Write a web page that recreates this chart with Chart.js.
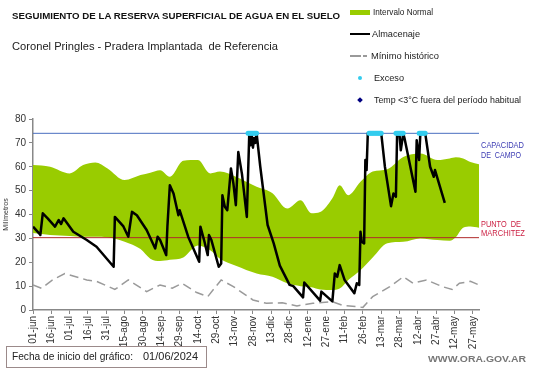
<!DOCTYPE html>
<html>
<head>
<meta charset="utf-8">
<script src="https://cdn.jsdelivr.net/npm/chart.js@4.4.1/dist/chart.umd.min.js"></script>
<style>
  html, body { margin: 0; padding: 0; background: #fff; }
  #wrap { position: relative; width: 541px; height: 368px; overflow: hidden;
          font-family: "Liberation Sans", Arial, sans-serif; color: #222; }
  #wrap canvas { position: absolute; left: 0; top: 0; }
  .t { position: absolute; white-space: nowrap; transform-origin: 0 50%; line-height: 10px; }
  .sw { position: absolute; }
</style>
</head>
<body>
<div id="wrap">
  <canvas id="chart" width="541" height="368"></canvas>

  <div class="t fit" data-w="328" style="left:12px;top:11px;font-size:8.7px;font-weight:bold;color:#111;">SEGUIMIENTO DE LA RESERVA SUPERFICIAL DE AGUA EN EL SUELO</div>
  <div class="t fit" data-w="266" style="left:12px;top:40px;font-size:11px;line-height:12px;color:#222;">Coronel Pringles - Pradera Implantada&nbsp; de Referencia</div>

  <!-- legend -->
  <div class="sw" style="left:350px;top:10px;width:20px;height:5px;background:#99CC00;"></div>
  <div class="t fit" data-w="60" style="left:373px;top:7px;font-size:9.5px;">Intervalo Normal</div>
  <div class="sw" style="left:350px;top:33px;width:20px;height:2px;background:#000;"></div>
  <div class="t fit" data-w="48" style="left:372px;top:29px;font-size:9.5px;">Almacenaje</div>
  <div class="sw" style="left:350px;top:55px;width:11px;height:1.5px;background:#999;"></div>
  <div class="sw" style="left:363px;top:55px;width:4px;height:1.5px;background:#999;"></div>
  <div class="t fit" data-w="68" style="left:371px;top:51px;font-size:9.5px;">Mínimo histórico</div>
  <div class="sw" style="left:358px;top:76px;width:4px;height:4px;border-radius:50%;background:#33CCEE;"></div>
  <div class="t fit" data-w="30" style="left:374px;top:73px;font-size:9.5px;">Exceso</div>
  <div class="sw" style="left:358px;top:98px;width:4px;height:4px;transform:rotate(45deg);background:#000080;"></div>
  <div class="t fit" data-w="147" style="left:374px;top:95px;font-size:9.5px;">Temp &lt;3°C fuera del período habitual</div>

  <!-- reference line labels -->
  <div class="t fit" data-w="43" style="left:481px;top:140px;font-size:8.5px;color:#3B3BB3;">CAPACIDAD</div>
  <div class="t fit" data-w="40" style="left:481px;top:150px;font-size:8.5px;color:#3B3BB3;">DE&nbsp; CAMPO</div>
  <div class="t fit" data-w="40" style="left:481px;top:219px;font-size:8.5px;color:#CC2244;">PUNTO&nbsp; DE</div>
  <div class="t fit" data-w="44" style="left:481px;top:228px;font-size:8.5px;color:#CC2244;">MARCHITEZ</div>

  <!-- footer -->
  <div style="position:absolute;left:6px;top:346px;width:199px;height:20px;border:1px solid #9B8A8A;"></div>
  <div class="t fit" data-w="121" style="left:12px;top:350px;font-size:11px;line-height:12px;">Fecha de inicio del gráfico:</div>
  <div class="t fit" data-w="55" style="left:143px;top:350px;font-size:11px;line-height:12px;">01/06/2024</div>
  <div class="t fit" data-w="98" style="left:428px;top:354px;font-size:9.5px;font-weight:bold;color:#777;">WWW.ORA.GOV.AR</div>
</div>

<script>
// x axis in days counted from 01-jun-2024
const tickDays = [0, 15, 30, 45, 60, 75, 90, 105, 120, 135, 150, 165, 180, 195, 210, 225, 240, 255, 270, 285, 300, 315, 330, 345, 360];
const tickLabels = ['01-jun', '16-jun', '01-jul', '16-jul', '31-jul', '15-ago', '30-ago', '14-sep', '29-sep', '14-oct', '29-oct', '13-nov',
                    '28-nov', '13-dic', '28-dic', '12-ene', '27-ene', '11-feb', '26-feb', '13-mar', '28-mar', '12-abr', '27-abr', '12-may', '27-may'];

// Intervalo Normal (upper / lower edge of the green band)
const bandDays  = [0, 14, 30, 41, 51, 61, 75, 88, 96, 104, 112, 123, 135, 145, 153, 166, 183, 196, 208, 219, 228, 235, 245, 251, 258, 268, 278, 290, 303, 317, 331, 341, 346, 352, 358, 365];
const bandUpper = [60.7, 60, 57.2, 60.7, 61.8, 59.3, 54.4, 56.5, 57.5, 58.5, 55.8, 62.5, 62.8, 57.2, 58, 55.8, 51.6, 48.9, 42.5, 46, 40.5, 41, 46.8, 52.3, 48.1, 53.7, 58, 59, 64.1, 65.5, 62.8, 63.5, 64, 63.5, 62, 61];
const bandLower = [32.2, 31.4, 31, 30.7, 30.7, 30.5, 28.6, 25.5, 21.5, 20.5, 21, 22, 27, 25, 21.5, 18.5, 15.3, 13.9, 11.2, 10, 9.5, 8.6, 8.4, 9, 12.6, 16.7, 22, 28, 28.6, 30, 29.3, 29, 30.5, 34.5, 35, 34.5];

// Mínimo histórico
const minDays = [0, 7, 16, 26, 44, 52, 67, 78, 93, 104, 114, 122, 134, 143, 154, 164, 180, 191, 204, 216, 229, 245, 253, 270, 278, 292, 303, 311, 322, 335, 343, 349, 358, 365];
const minVals = [10.5, 9.1, 12.6, 15.3, 12.6, 12, 8.6, 12.6, 7.7, 10.5, 9.1, 11.2, 7.3, 5.6, 12.6, 9.8, 4.2, 2.8, 3, 1.7, 2.8, 3.5, 2, 1.1, 5.6, 9.8, 13.9, 11.2, 12.6, 9.8, 8.6, 11.2, 12, 10.5];

// Almacenaje
const almDays = [0, 5, 6, 8, 12, 18, 21, 23, 25, 33, 44, 52, 66, 67, 74, 78, 81, 85, 93, 100,
                 102, 104, 109, 110, 112, 115, 119, 120, 127, 136, 137, 140, 143, 144, 146, 152, 154, 155, 157, 159,
                 162, 164, 166, 168, 171, 175, 177, 178, 179, 180, 181, 182, 183, 186, 192, 197, 202, 210, 213, 221,
                 222, 235, 236, 245, 247, 249, 251, 255, 263, 265, 267, 268, 269, 271, 272, 273, 274, 285, 288, 293,
                 295, 297, 298, 300, 301, 303, 304, 313, 314, 316, 317, 321, 325, 328, 329, 337];
const almVals = [34.9, 32.1, 31.4, 40.5, 38.4, 34.9, 37.7, 36, 38.4, 32.8, 29.3, 26.5, 18.1, 39, 35, 30.7, 41.1, 39.7, 33.5, 25.8,
                 30.7, 29.3, 23, 35, 52.3, 48.8, 39.7, 41.8, 30.7, 20.2, 34.9, 29.3, 23, 31.4, 29.3, 18.1, 19.5, 48.1, 43.2, 41.8,
                 59.3, 53, 43.9, 66.2, 57, 39, 74, 69, 73, 68, 72, 70, 74, 60, 35.6, 27.9, 18.6, 10.5, 10, 5.3,
                 11.5, 3.9, 7.7, 3.6, 15.3, 13.9, 18.8, 12.6, 7, 11.2, 10.5, 32.8, 28.6, 27.9, 62.8, 58.6, 74, 74, 60, 43.5,
                 48.8, 47.4, 74, 73, 66.9, 74, 72, 49.5, 71.1, 62.8, 74, 74, 60, 55.8, 58.6, 44.9];

// days at field capacity (Exceso)
const excesoDays = [176, 177, 178, 179, 180, 181, 182, 183,
                    275, 276, 277, 278, 279, 280, 281, 282, 283, 284, 285,
                    297, 298, 299, 300, 301, 302, 303,
                    316, 317, 318, 319, 320, 321];

const capacidadCampo = 74;
const puntoMarchitez = 30.3;
const axisSpan = [0, 365];

const pts = (xs, ys) => xs.map((x, i) => ({ x, y: ys[i] }));
const flat = (v) => axisSpan.map(x => ({ x, y: v }));
const none = 'rgba(0,0,0,0)';

new Chart(document.getElementById('chart'), {
  type: 'line',
  data: {
    datasets: [
      { label: 'bandLower', data: pts(bandDays, bandLower), borderColor: none, borderWidth: 0,
        pointRadius: 0, fill: false, cubicInterpolationMode: 'monotone', order: 6 },
      { label: 'Intervalo Normal', data: pts(bandDays, bandUpper), borderColor: none, borderWidth: 0,
        backgroundColor: '#99CC00', pointRadius: 0, fill: 0, cubicInterpolationMode: 'monotone', order: 5 },
      { label: 'Mínimo histórico', data: pts(minDays, minVals), borderColor: '#9A9A9A', borderWidth: 1.5,
        borderDash: [9, 5], pointRadius: 0, fill: false, order: 4 },
      { label: 'Capacidad', data: flat(capacidadCampo), borderColor: '#4A6FC0', borderWidth: 1,
        pointRadius: 0, fill: false, order: 3 },
      { label: 'Marchitez', data: flat(puntoMarchitez), borderColor: '#B02A2A', borderWidth: 1,
        pointRadius: 0, fill: false, order: 3 },
      { label: 'Almacenaje', data: pts(almDays, almVals), borderColor: '#000', borderWidth: 2.5,
        borderJoinStyle: 'round', pointRadius: 0, fill: false, order: 1 },
      { label: 'Exceso', data: excesoDays.map(x => ({ x, y: capacidadCampo })), showLine: false,
        pointRadius: 2.5, pointBackgroundColor: '#33CCEE', pointBorderWidth: 0, order: 0 },
    ],
  },
  options: {
    responsive: false,
    animation: false,
    devicePixelRatio: 1,
    layout: { padding: { top: 119, right: 62, left: 0, bottom: 0 } },
    plugins: { legend: { display: false }, tooltip: { enabled: false } },
    scales: {
      x: {
        type: 'linear', min: axisSpan[0], max: axisSpan[1],
        afterBuildTicks: (s) => { s.ticks = tickDays.map(value => ({ value })); },
        afterFit: (s) => { s.height = 58; },
        ticks: {
          callback: (v) => tickLabels[tickDays.indexOf(v)],
          autoSkip: false, maxRotation: 90, minRotation: 90,
          font: { family: 'Liberation Sans', size: 10 }, color: '#333', padding: 2,
        },
        grid: { drawOnChartArea: false, drawTicks: true, tickLength: 4, color: '#888' },
        border: { color: '#888', width: 1.5 },
      },
      y: {
        min: 0, max: 80,
        afterFit: (s) => { s.width = 33; },
        ticks: { stepSize: 10, font: { family: 'Liberation Sans', size: 10 }, color: '#333', padding: 3 },
        grid: { drawOnChartArea: false, drawTicks: true, tickLength: 4, color: '#888' },
        border: { color: '#888', width: 1.5 },
        title: { display: true, text: 'Milímetros', font: { family: 'Liberation Sans', size: 7 }, color: '#333', padding: 2 },
      },
    },
  },
});

// squeeze overlay texts to the widths seen in the reference
document.querySelectorAll('.fit').forEach(el => {
  const natural = el.getBoundingClientRect().width;
  el.style.transform = `scaleX(${(+el.dataset.w / natural).toFixed(3)})`;
});
</script>
</body>
</html>
